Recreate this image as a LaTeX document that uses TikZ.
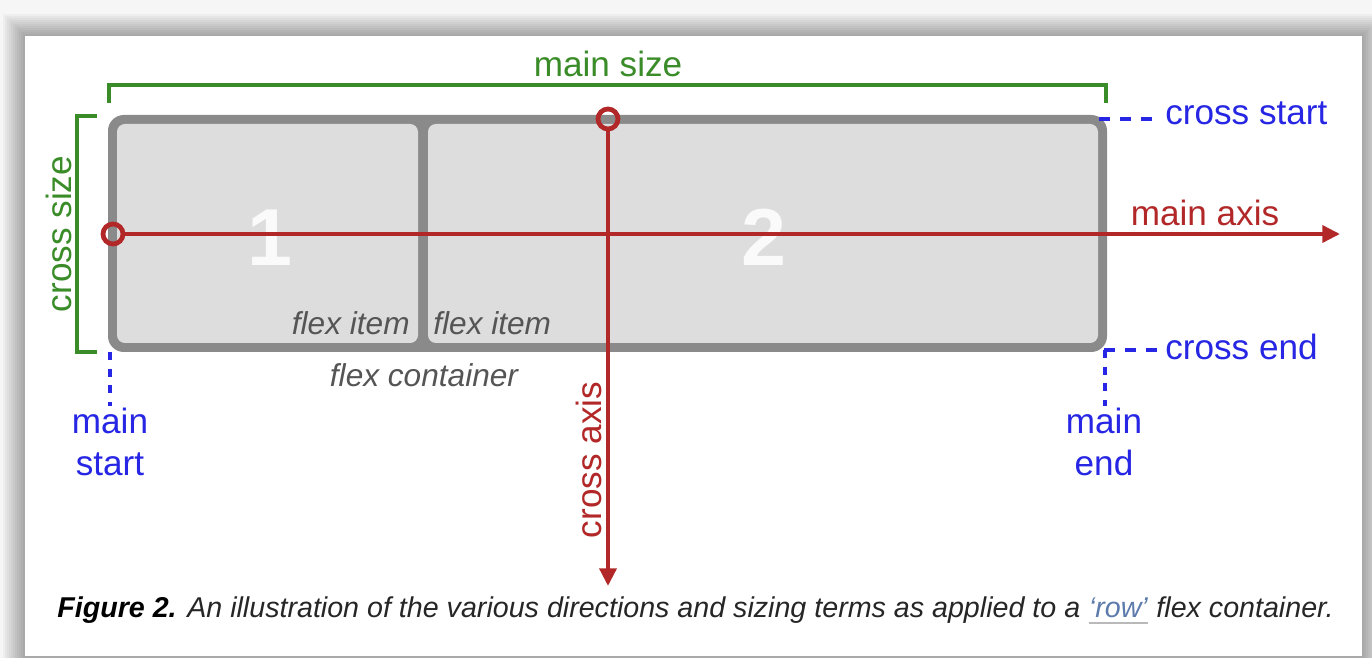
\documentclass[tikz,border=0pt]{standalone}
\usepackage{fontspec}
\setmainfont{Liberation Sans}
\usetikzlibrary{arrows.meta}
\definecolor{axisred}{RGB}{178,40,40}
\definecolor{sizegreen}{RGB}{58,140,40}
\definecolor{edgeblue}{RGB}{38,38,228}
\definecolor{boxgray}{RGB}{138,138,138}
\definecolor{itemgray}{RGB}{221,221,221}
\definecolor{notegray}{RGB}{85,85,85}
\definecolor{linkblue}{RGB}{92,122,172}

\begin{document}
\begin{tikzpicture}[x=0.02cm,y=-0.02cm]
\tikzstyle{every node}=[inner sep=0pt, font=\fontsize{20}{24}\selectfont]
\tikzstyle{axis}=[draw=axisred, line width=2.3pt]
\tikzstyle{pin}=[circle, draw=axisred, line width=2.7pt, minimum size=0.4cm]
\tikzstyle{bracket}=[draw=sizegreen, line width=1.8pt]
\tikzstyle{edge}=[draw=edgeblue, line width=2.4pt, dash pattern=on 6pt off 6pt]
\tikzstyle{edgev}=[edge, dash pattern=on 4.5pt off 5pt]
\tikzstyle{note}=[text=notegray, font=\itshape\fontsize{18}{22}\selectfont]
\tikzstyle{digit}=[text=white!96!gray, font=\bfseries\fontsize{46}{50}\selectfont]
\tikzstyle{capfont}=[font=\itshape\fontsize{16.3}{19}\selectfont]
\useasboundingbox (0,0) rectangle (1372,658);
% page and shadow
\fill[gray!7] (0,0) rectangle (1372,658);
\foreach \s in {1,...,11}
  \fill[black, opacity=.03] (25-2*\s,36-2*\s) rectangle (1362+2*\s,656+2*\s);
\fill[white] (25,36) rectangle (1362,656);
% flex container and items
\fill[boxgray, rounded corners=9pt] (108,115) rectangle (1107,352);
\fill[itemgray, rounded corners=4.5pt] (117,124) rectangle (418,343);
\fill[itemgray, rounded corners=4.5pt] (428,124) rectangle (1098,343);
\node (one) [digit] at (270,238) {1};
\node (two) [digit] at (764,237) {2};
\node (item1) [note, anchor=base east] at (410,335) {flex item};
\node (item2) [note, anchor=base west] at (433,335) {flex item};
\node (cont) [note, anchor=base] at (424,386) {flex container};
% main size / cross size
\coordinate (ms1) at (109,103);
\coordinate (ms2) at (1106,103);
\draw[bracket] (ms1) -- ++(0,-18) -| (ms2);
\node (msize) [anchor=base, text=sizegreen] at (608,77) {main size};
\coordinate (cz1) at (97,116);
\coordinate (cz2) at (97,352);
\draw[bracket] (cz1) -- ++(-20,0) |- (cz2);
\node (csize) [anchor=base, rotate=90, text=sizegreen] at (71,234) {cross size};
% start and end
\coordinate (csa) at (1099,119);
\coordinate (csb) at (1159,119);
\draw[edge] (csa) -- (csb);
\node (cstart) [anchor=base west, text=edgeblue] at (1165,125) {cross start};
\coordinate (cea) at (1104,350);
\coordinate (ceb) at (1159,350);
\draw[edge] (cea) -- (ceb);
\node (cend) [anchor=base west, text=edgeblue] at (1165,359) {cross end};
\coordinate (mea) at (1105,350);
\coordinate (meb) at (1105,406);
\draw[edgev] (mea) -- (meb);
\node (mend) [align=center, text=edgeblue, anchor=north] at (1104,408) {main\\end};
\coordinate (msa) at (110,352);
\coordinate (msb) at (110,406);
\draw[edgev] (msa) -- (msb);
\node (mstart) [align=center, text=edgeblue, anchor=north] at (110,408) {main\\start};
% axes
\node (mpin) [pin] at (113,234) {};
\coordinate (mtip) at (1340,234);
\draw[axis, -{Triangle[length=10pt, width=9.5pt]}] (mpin) -- (mtip);
\node (maxis) [anchor=base, text=axisred] at (1205,226) {main axis};
\node (cpin) [pin] at (608,119) {};
\coordinate (ctip) at (608,586);
\draw[axis, -{Triangle[length=10pt, width=9.5pt]}] (cpin) -- (ctip);
\node (caxis) [anchor=base, rotate=90, text=axisred] at (601,460) {cross axis};
% caption
\node (cap) [anchor=base west, text=black!85, capfont] at (57,617)
  {\textbf{\textcolor{black}{Figure 2.}} An illustration of the various directions and sizing terms as applied to a};
\node (row) [anchor=base west, text=linkblue, capfont] at ([xshift=4.5pt]cap.base east) {`row'};
\node (capend) [anchor=base west, text=black!85, capfont] at ([xshift=4.5pt]row.base east) {flex container.};
\draw[gray!55, line width=0.8pt] ([yshift=-3.5pt]row.base west) -- ([yshift=-3.5pt]row.base east);
\end{tikzpicture}
\end{document}
